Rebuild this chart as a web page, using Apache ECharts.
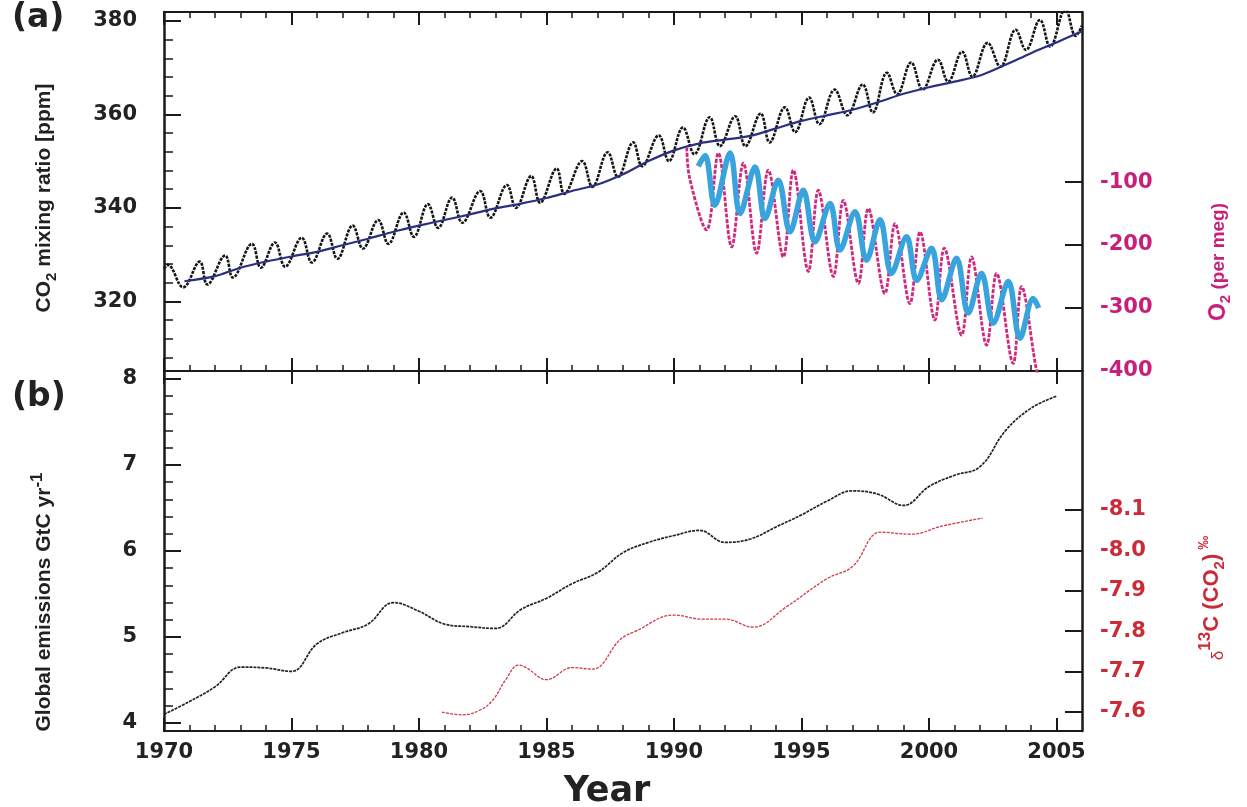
<!DOCTYPE html>
<html>
<head>
<meta charset="utf-8">
<title>CO2, O2, emissions and d13C</title>
<script src="https://cdn.jsdelivr.net/npm/echarts@6.0.0/dist/echarts.min.js"></script>
<style>
  html, body { margin: 0; padding: 0; background: #fff; }
  #chart { width: 1247px; height: 807px; }
</style>
</head>
<body>
<div id="chart"></div>
<script>
// (a) Mauna Loa CO2: seasonal maxima and minima [year, ppm]
const maunaLoaPeaks = [
  [1970.15, 327.8], [1971.4, 328.5], [1972.4, 329.8], [1973.45, 332.3], [1974.35, 332.6],
  [1975.4, 333.6], [1976.4, 334.5], [1977.4, 336.2], [1978.4, 337.4], [1979.4, 339.0],
  [1980.35, 340.8], [1981.3, 342.2], [1982.4, 343.6], [1983.45, 344.9], [1984.4, 346.8],
  [1985.4, 348.4], [1986.4, 350.0], [1987.4, 351.9], [1988.4, 354.0], [1989.4, 355.5],
  [1990.35, 357.2], [1991.4, 359.4], [1992.4, 359.6], [1993.4, 360.2], [1994.35, 361.5],
  [1995.3, 363.6], [1996.3, 365.3], [1997.4, 366.4], [1998.35, 368.9], [1999.3, 371.1],
  [2000.35, 371.7], [2001.3, 373.4], [2002.3, 375.3], [2003.4, 378.1], [2004.35, 380.2],
  [2005.35, 382.5]
];
const maunaLoaTroughs = [
  [1970.0, 327.0], [1970.75, 323.0], [1971.7, 323.6], [1972.7, 325.1], [1973.8, 327.2],
  [1974.75, 327.4], [1975.8, 328.3], [1976.8, 329.1], [1977.8, 331.3], [1978.8, 332.3],
  [1979.8, 333.8], [1980.75, 335.7], [1981.7, 336.8], [1982.8, 337.9], [1983.8, 340.0],
  [1984.75, 341.1], [1985.7, 343.0], [1986.8, 344.5], [1987.8, 346.6], [1988.75, 348.9],
  [1989.8, 350.0], [1990.8, 351.5], [1991.8, 353.2], [1992.8, 353.2], [1993.75, 354.0],
  [1994.75, 356.2], [1995.7, 357.9], [1996.8, 359.8], [1997.8, 360.4], [1998.75, 364.3],
  [1999.75, 365.3], [2000.75, 367.0], [2001.7, 368.1], [2002.8, 370.2], [2003.8, 373.8],
  [2004.75, 374.5], [2005.75, 376.8], [2006.0, 379.0]
];
// (a) Baring Head CO2 (blue) [year, ppm]
const baringHead = [
  [1970.8, 324.3], [1972, 325.4], [1973, 327.2], [1974, 328.5], [1975, 329.6], [1976, 330.6],
  [1977, 332.0], [1978, 333.4], [1979, 334.9], [1980, 336.2], [1981, 337.4], [1982, 338.6],
  [1983, 339.9], [1984, 340.9], [1985, 342.1], [1986, 343.6], [1987, 345.0], [1988, 347.2],
  [1989, 350.0], [1990, 352.3], [1991, 353.8], [1992, 354.6], [1993, 355.4], [1994, 357.0],
  [1995, 358.6], [1996, 359.8], [1997, 361.0], [1998, 362.6], [1999, 364.4], [2000, 365.8],
  [2001, 367.0], [2002, 368.3], [2003, 370.6], [2004, 373.1], [2005, 375.4], [2006, 377.8]
];
// (a) O2 (per meg): Alert (pink) and Cape Grim (cyan)
const alertO2 = [
  [1990.5, -45], [1990.62, -95], [1991.28, -176], [1991.74, -54], [1992.26, -203], [1992.72, -70],
  [1993.24, -213], [1993.7, -81], [1994.29, -219], [1994.68, -81], [1995.27, -242], [1995.66, -113],
  [1996.25, -250], [1996.64, -129], [1997.23, -261], [1997.62, -142], [1998.27, -277], [1998.67, -166],
  [1999.25, -293], [1999.65, -179], [2000.23, -319], [2000.6, -205], [2001.28, -343], [2001.67, -219],
  [2002.26, -359], [2002.65, -245], [2003.3, -388], [2003.63, -266], [2004.2, -396], [2004.3, -410]
];
const capeGrimO2 = [
  [1990.95, -75], [1991.22, -58], [1991.6, -137], [1992.2, -54], [1992.59, -150], [1993.18, -76],
  [1993.57, -158], [1994.09, -97], [1994.55, -179], [1995.07, -113], [1995.53, -195], [1996.12, -134],
  [1996.51, -208], [1997.1, -147], [1997.55, -224], [1998.08, -160], [1998.53, -245], [1999.12, -187],
  [1999.52, -256], [2000.1, -205], [2000.5, -287], [2001.08, -221], [2001.54, -308], [2002.06, -245],
  [2002.52, -324], [2003.11, -258], [2003.57, -348], [2004.09, -285], [2004.3, -300]
];
// (b) global emissions GtC/yr
const emissionYears = [1970, 1971, 1972, 1973, 1974, 1975, 1976, 1977, 1978, 1979, 1980, 1981,
  1982, 1983, 1984, 1985, 1986, 1987, 1988, 1989, 1990, 1991, 1992, 1993, 1994, 1995, 1996,
  1997, 1998, 1999, 2000, 2001, 2002, 2003, 2004, 2005];
const emissions = [4.10, 4.25, 4.42, 4.65, 4.64, 4.60, 4.92, 5.05, 5.15, 5.40, 5.30, 5.15,
  5.12, 5.10, 5.32, 5.45, 5.62, 5.75, 5.98, 6.10, 6.18, 6.24, 6.10, 6.14, 6.28, 6.42, 6.58,
  6.70, 6.66, 6.53, 6.75, 6.88, 6.98, 7.40, 7.66, 7.80];
// (b) d13C of CO2 at Mauna Loa (red)
const d13C = [
  [1980.9, -7.600], [1981.7, -7.593], [1982.4, -7.605], [1982.9, -7.630], [1983.4, -7.680],
  [1983.9, -7.716], [1984.2, -7.710], [1985.0, -7.680], [1986.0, -7.710], [1986.8, -7.706],
  [1987.9, -7.780], [1988.5, -7.800], [1990.0, -7.840], [1991.1, -7.830], [1992.0, -7.830],
  [1993.1, -7.810], [1994.4, -7.860], [1996.0, -7.930], [1997.0, -7.960], [1998.1, -8.045],
  [1999.3, -8.040], [2000.5, -8.060], [2002.1, -8.080]
];
// tick labels
const yearTicks = [1970, 1975, 1980, 1985, 1990, 1995, 2000, 2005];
const co2Ticks = [320, 340, 360, 380];
const o2Ticks = [-400, -300, -200, -100];
const emisTicks = [4, 5, 6, 7, 8];
const d13CTicks = [-8.1, -8.0, -7.9, -7.8, -7.7, -7.6];

const maunaLoa = maunaLoaPeaks.concat(maunaLoaTroughs).sort((a, b) => a[0] - b[0]);
const emissionData = emissionYears.map((y, i) => [y, emissions[i]]);

const ink = '#1a1a1a';
const tickFont = 'DejaVu Sans';
const textFont = 'Liberation Sans';

function xAxisFor(grid, pos, withMinor, withLabels) {
  return {
    type: 'value', gridIndex: grid, position: pos, min: 1970, max: 2006, interval: 5,
    axisLine: { show: true, onZero: false, lineStyle: { color: ink, width: 2 } },
    axisTick: { show: true, inside: true, length: 13, customValues: yearTicks, lineStyle: { color: ink, width: 2 } },
    minorTick: { show: withMinor, splitNumber: 5, length: 6, lineStyle: { color: ink, width: 1.5 } },
    axisLabel: {
      show: withLabels, customValues: yearTicks, margin: 11,
      formatter: v => String(v),
      fontFamily: tickFont, fontWeight: 'bold', fontSize: 21, color: '#222'
    },
    splitLine: { show: false }
  };
}

function yAxisFor(grid, pos, min, max, ticks, color, extra) {
  return Object.assign({
    type: 'value', gridIndex: grid, position: pos, min: min, max: max,
    axisLine: { show: true, onZero: false, lineStyle: { color: ink, width: 2.5 } },
    axisTick: { show: true, inside: true, length: 17, customValues: ticks, lineStyle: { color: ink, width: 2 } },
    axisLabel: {
      customValues: ticks, margin: pos === 'left' ? 27 : 18,
      formatter: v => String(v),
      fontFamily: tickFont, fontWeight: 'bold', fontSize: 21, color: color
    },
    splitLine: { show: false }
  }, extra || {});
}

const chart = echarts.init(document.getElementById('chart'));

const d13CAxis = yAxisFor(1, 'right', -8.444, -7.553, d13CTicks, '#cc2a36', { inverse: true });
d13CAxis.axisLabel.formatter = v => v.toFixed(1);

const option = {
  animation: false,
  backgroundColor: '#fff',
  grid: [
    { left: 164, right: 165, top: 12, height: 359 },
    { left: 164, right: 165, top: 371, height: 360 }
  ],
  xAxis: [
    xAxisFor(0, 'bottom', true, false),
    xAxisFor(0, 'top', true, false),
    xAxisFor(1, 'top', false, false),
    xAxisFor(1, 'bottom', true, true)
  ],
  yAxis: [
    yAxisFor(0, 'left', 305.1, 381.9, co2Ticks, '#222', {
      minorTick: { show: true, splitNumber: 5, length: 9, lineStyle: { color: ink, width: 1.5 } }
    }),
    yAxisFor(0, 'right', -400, 170, o2Ticks, '#c8207a'),
    yAxisFor(1, 'left', 3.907, 8.093, emisTicks, '#222', {
      minorTick: { show: true, splitNumber: 5, length: 9, lineStyle: { color: ink, width: 1.5 } }
    }),
    d13CAxis
  ],
  series: [
    {
      name: 'Mauna Loa CO2', type: 'line', xAxisIndex: 0, yAxisIndex: 0,
      data: maunaLoa, smooth: 0.4, showSymbol: false,
      lineStyle: { color: '#151515', width: 2.6, type: [3, 1.2] }
    },
    {
      name: 'Baring Head CO2', type: 'line', xAxisIndex: 0, yAxisIndex: 0,
      data: baringHead, smooth: 0.3, showSymbol: false,
      lineStyle: { color: '#2c2f80', width: 2.2 }
    },
    {
      name: 'Alert O2', type: 'line', xAxisIndex: 0, yAxisIndex: 1,
      data: alertO2, smooth: 0.35, showSymbol: false,
      lineStyle: { color: '#d0287c', width: 2.8, type: [4, 1.5] }
    },
    {
      name: 'Cape Grim O2', type: 'line', xAxisIndex: 0, yAxisIndex: 1,
      data: capeGrimO2, smooth: 0.35, showSymbol: false,
      lineStyle: { color: '#38a3dc', width: 5.5 }
    },
    {
      name: 'Emissions', type: 'line', xAxisIndex: 3, yAxisIndex: 2,
      data: emissionData, smooth: 0.4, showSymbol: false,
      lineStyle: { color: '#222', width: 1.7, type: [3, 1] }
    },
    {
      name: 'd13C', type: 'line', xAxisIndex: 3, yAxisIndex: 3,
      data: d13C, smooth: 0.4, showSymbol: false,
      lineStyle: { color: '#d23a4a', width: 1.3, type: [3, 1.2] }
    }
  ],
  graphic: [
    { type: 'text', left: 12, top: 2, style: { text: '(a)', font: 'bold 33px ' + tickFont, fill: '#222' } },
    { type: 'text', left: 12, top: 381, style: { text: '(b)', font: 'bold 33px ' + tickFont, fill: '#222' } },
    {
      type: 'text', x: 607, y: 792,
      style: { text: 'Year', font: 'bold 35px ' + tickFont, fill: '#222', align: 'center', verticalAlign: 'middle' }
    },
    {
      type: 'text', x: 44, y: 198, rotation: Math.PI / 2,
      style: {
        text: '{m|CO}{s|2}{m| mixing ratio [ppm]}', align: 'center', verticalAlign: 'middle',
        rich: {
          m: { fontFamily: textFont, fontWeight: 'bold', fontSize: 21, fill: '#222', lineHeight: 30 },
          s: { fontFamily: textFont, fontWeight: 'bold', fontSize: 15, fill: '#222', verticalAlign: 'bottom' }
        }
      }
    },
    {
      type: 'text', x: 44, y: 602, rotation: Math.PI / 2,
      style: {
        text: '{m|Global emissions GtC yr}{p|-1}', align: 'center', verticalAlign: 'middle',
        rich: {
          m: { fontFamily: textFont, fontWeight: 'bold', fontSize: 21, fill: '#222', lineHeight: 30 },
          p: { fontFamily: textFont, fontSize: 17, fontWeight: 'bold', fill: '#222', verticalAlign: 'top' }
        }
      }
    },
    {
      type: 'text', x: 1219, y: 262, rotation: Math.PI / 2,
      style: {
        text: '{b|O}{s|2}{m| (per meg)}', align: 'center', verticalAlign: 'middle',
        rich: {
          b: { fontFamily: textFont, fontWeight: 'bold', fontSize: 23, fill: '#c8207a', lineHeight: 28 },
          s: { fontFamily: textFont, fontWeight: 'bold', fontSize: 15, fill: '#c8207a', verticalAlign: 'bottom' },
          m: { fontFamily: textFont, fontWeight: 'bold', fontSize: 19, fill: '#c8207a' }
        }
      }
    },
    {
      type: 'text', x: 1212, y: 598, rotation: Math.PI / 2,
      style: {
        text: '{d|δ}{p|13}{m|C (CO}{s|2}{m|)}{q| ‰}', align: 'center', verticalAlign: 'middle',
        rich: {
          d: { fontFamily: textFont, fontSize: 17, fill: '#cc2a36', verticalAlign: 'bottom' },
          p: { fontFamily: textFont, fontWeight: 'bold', fontSize: 17, fill: '#cc2a36', verticalAlign: 'top' },
          m: { fontFamily: textFont, fontWeight: 'bold', fontSize: 22, fill: '#cc2a36', lineHeight: 30 },
          s: { fontFamily: textFont, fontWeight: 'bold', fontSize: 15, fill: '#cc2a36', verticalAlign: 'bottom' },
          q: { fontFamily: textFont, fontWeight: 'bold', fontSize: 14, fill: '#cc2a36', verticalAlign: 'top' }
        }
      }
    }
  ]
};

chart.setOption(option);
</script>
</body>
</html>
